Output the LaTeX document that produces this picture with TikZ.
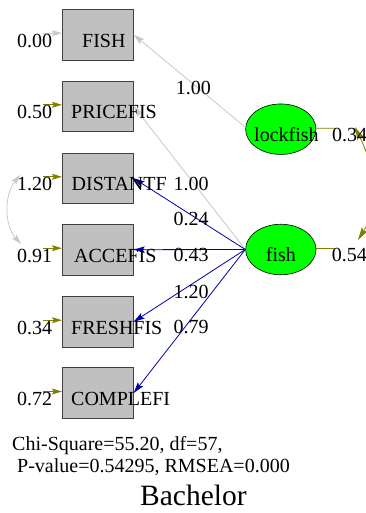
\documentclass[tikz,border=0pt]{standalone}
\usepackage{fontspec}
\setmainfont{Liberation Serif}
\usetikzlibrary{shapes.geometric,arrows.meta}
\definecolor{boxfill}{RGB}{192,192,192}
\definecolor{boxline}{RGB}{64,64,64}
\definecolor{lgray}{RGB}{200,200,200}
\definecolor{dblue}{RGB}{0,0,170}
\definecolor{olv}{RGB}{128,128,0}
\definecolor{latgreen}{RGB}{0,255,0}
\begin{document}
\begin{tikzpicture}[x=1pt,y=-1pt,
  >={Stealth[length=11pt,width=6.5pt,inset=2pt]},
  obs/.style={draw=boxline,fill=boxfill,line width=0.8pt,minimum width=71pt,minimum height=50.7pt,inner sep=0pt},
  lat/.style={ellipse,draw=black,fill=latgreen,line width=0.6pt,minimum width=70.4pt,minimum height=50.5pt,inner sep=0pt},
  txt/.style={inner sep=0pt,anchor=base west,font=\fontsize{20}{24}\selectfont},
  gline/.style={draw=lgray,line width=0.8pt,->},
  bline/.style={draw=dblue,line width=0.8pt,->},
  oline/.style={draw=olv,line width=0.8pt},
  errarrow/.style={line width=0.8pt,-{Stealth[length=10pt,width=6pt,inset=2pt]}}]
\useasboundingbox (0,0) rectangle (366,513);

% observed boxes
\node[obs] (FISH) at (97.8,34.7) {};
\node[obs] (PRICEFIS) at (97.8,106.3) {};
\node[obs] (DISTANTF) at (97.8,178.3) {};
\node[obs] (ACCEFIS) at (97.8,249.7) {};
\node[obs] (FRESHFIS) at (97.8,321.7) {};
\node[obs] (COMPLEFI) at (97.8,393) {};

% latent ellipses
\node[lat] (lockfish) at (280.8,129.2) {};
\node[lat] (fish) at (280.8,249.5) {};

% error arrows
\coordinate (aFISH) at (43,33.2);
\coordinate (aPRICEFIS) at (43,104.8);
\coordinate (aDISTANTF) at (43,176.8);
\coordinate (aACCEFIS) at (43,248.2);
\coordinate (aFRESHFIS) at (43,320.2);
\coordinate (aCOMPLEFI) at (43,391.5);
\draw[errarrow,draw=lgray,fill=lgray] (aFISH) -- ([yshift=1.5pt]FISH.west);
\draw[errarrow,draw=olv,fill=olv] (aPRICEFIS) -- ([yshift=1.5pt]PRICEFIS.west);
\draw[errarrow,draw=olv,fill=olv] (aDISTANTF) -- ([yshift=1.5pt]DISTANTF.west);
\draw[errarrow,draw=olv,fill=olv] (aACCEFIS) -- ([yshift=1.5pt]ACCEFIS.west);
\draw[errarrow,draw=olv,fill=olv] (aFRESHFIS) -- ([yshift=1.5pt]FRESHFIS.west);
\draw[errarrow,draw=olv,fill=olv] (aCOMPLEFI) -- ([yshift=1.5pt]COMPLEFI.west);

% error covariance arc
\coordinate (cTop) at (20,175);
\coordinate (cBot) at (21,244);
\draw[draw=lgray,line width=0.8pt,{Stealth[length=10pt,width=6pt,inset=2pt]}-{Stealth[length=10pt,width=6pt,inset=2pt]}]
  (cTop) .. controls (4,195) and (4,225) .. (cBot);

% loadings
\draw[gline] ([yshift=2pt]lockfish.west) -- (FISH.east);
\draw[gline] (fish.west) -- (PRICEFIS.east);
\draw[bline] (fish.west) -- (DISTANTF.east);
\draw[bline] (fish.west) -- (ACCEFIS.east);
\draw[bline] (fish.west) -- (FRESHFIS.east);
\draw[bline] (fish.west) -- (COMPLEFI.east);

% latent side lines and arc
\coordinate (rl) at (336,128.3);
\coordinate (rf) at (334,248);
\draw[oline] ([yshift=1pt]lockfish.east) -- (rl);
\draw[oline] ([yshift=1.5pt]fish.east) -- (rf);
\coordinate (arcTop) at (355,127);
\coordinate (arcBot) at (358,240);
\draw[draw=olv,line width=0.8pt,{Stealth[length=13pt,width=7pt,inset=2.5pt]}-{Stealth[length=13pt,width=7pt,inset=2.5pt]}]
  (arcTop) .. controls (378,175) and (380,205) .. (arcBot);

% texts in boxes
\node[txt] (tFISH) at (82,47.2) {FISH};
\node[txt] (tPRICEFIS) at (71,118.8) {PRICEFIS};
\node[txt] (tDISTANTF) at (71.5,190.8) {DISTANTF};
\node[txt] (tACCEFIS) at (74,262.2) {ACCEFIS};
\node[txt] (tFRESHFIS) at (71,334.2) {FRESHFIS};
\node[txt] (tCOMPLEFI) at (71,405.5) {COMPLEFI};

% error variances
\node[txt] (eFISH) at (17,47.2) {0.00};
\node[txt] (ePRICEFIS) at (17,118.8) {0.50};
\node[txt] (eDISTANTF) at (17,190.8) {1.20};
\node[txt] (eACCEFIS) at (17,262.2) {0.91};
\node[txt] (eFRESHFIS) at (17,334.2) {0.34};
\node[txt] (eCOMPLEFI) at (17,405.5) {0.72};

% loading labels
\node[txt] (lFISH) at (175.7,95) {1.00};
\node[txt] (lPRICEFIS) at (173.5,190.5) {1.00};
\node[txt] (lDISTANTF) at (173.5,225) {0.24};
\node[txt] (lACCEFIS) at (173.5,261) {0.43};
\node[txt] (lFRESHFIS) at (173.5,298) {1.20};
\node[txt] (lCOMPLEFI) at (173.5,333) {0.79};

% latent labels
\node[txt] (tlockfish) at (254,141.7) {lockfish};
\node[txt] (tfish) at (265.7,261.7) {fish};
\node[txt] (vlockfish) at (332,141.7) {0.34};
\node[txt] (vfish) at (331.7,261.7) {0.54};

% fit statistics
\node[txt] (chi) at (12,450) {Chi-Square=55.20, df=57,};
\node[txt] (pval) at (17,472.7) {P-value=0.54295, RMSEA=0.000};
\node[txt,font=\fontsize{29.5}{34}\selectfont] (title) at (140,505) {Bachelor};
\end{tikzpicture}
\end{document}
